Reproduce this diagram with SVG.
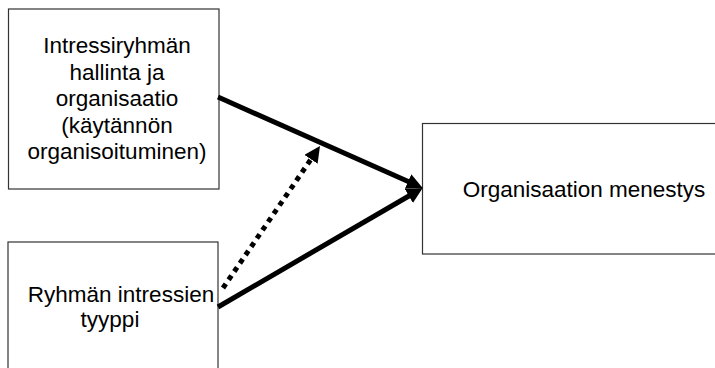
<svg xmlns="http://www.w3.org/2000/svg" width="715" height="368" viewBox="0 0 715 368">
<style>
.box{fill:#fff;stroke:#333;stroke-width:1.2}
.t{font-family:"Liberation Sans",Arial,sans-serif;font-size:22.5px;fill:#000;text-anchor:middle}
.ln{stroke:#000;stroke-width:5;fill:none}
.dot{stroke:#000;stroke-width:5;fill:none;stroke-dasharray:5 5}
</style>
<defs>
<marker id="ah" markerUnits="userSpaceOnUse" markerWidth="16" markerHeight="16" refX="2" refY="8" orient="auto">
<path d="M0,0 L16,8 L0,16 z" fill="#000"/>
</marker>
</defs>
<rect width="715" height="368" fill="#fff"/>
<g id="node-hallinta">
<rect class="box" x="8.5" y="9" width="210.5" height="180"/>
<text class="t" x="117" y="53">Intressiryhmän</text>
<text class="t" x="117" y="79.5">hallinta ja</text>
<text class="t" x="117" y="106">organisaatio</text>
<text class="t" x="117" y="132.5">(käytännön</text>
<text class="t" x="117" y="159">organisoituminen)</text>
</g>
<g id="node-tyyppi">
<rect class="box" x="8" y="242" width="210" height="140"/>
<text class="t" x="121" y="302">Ryhmän intressien</text>
<text class="t" x="110" y="327">tyyppi</text>
</g>
<g id="node-menestys">
<rect class="box" x="422.5" y="123.5" width="310" height="130.5"/>
<text class="t" x="584" y="197">Organisaation menestys</text>
</g>
<g id="connectors">
<line class="ln" x1="218" y1="97" x2="409.9" y2="182.3" marker-end="url(#ah)"/>
<line class="ln" x1="218" y1="307" x2="410.6" y2="195" marker-end="url(#ah)"/>
<line class="dot" x1="223" y1="288" x2="312.1" y2="157.6" marker-end="url(#ah)"/>
</g>
</svg>
